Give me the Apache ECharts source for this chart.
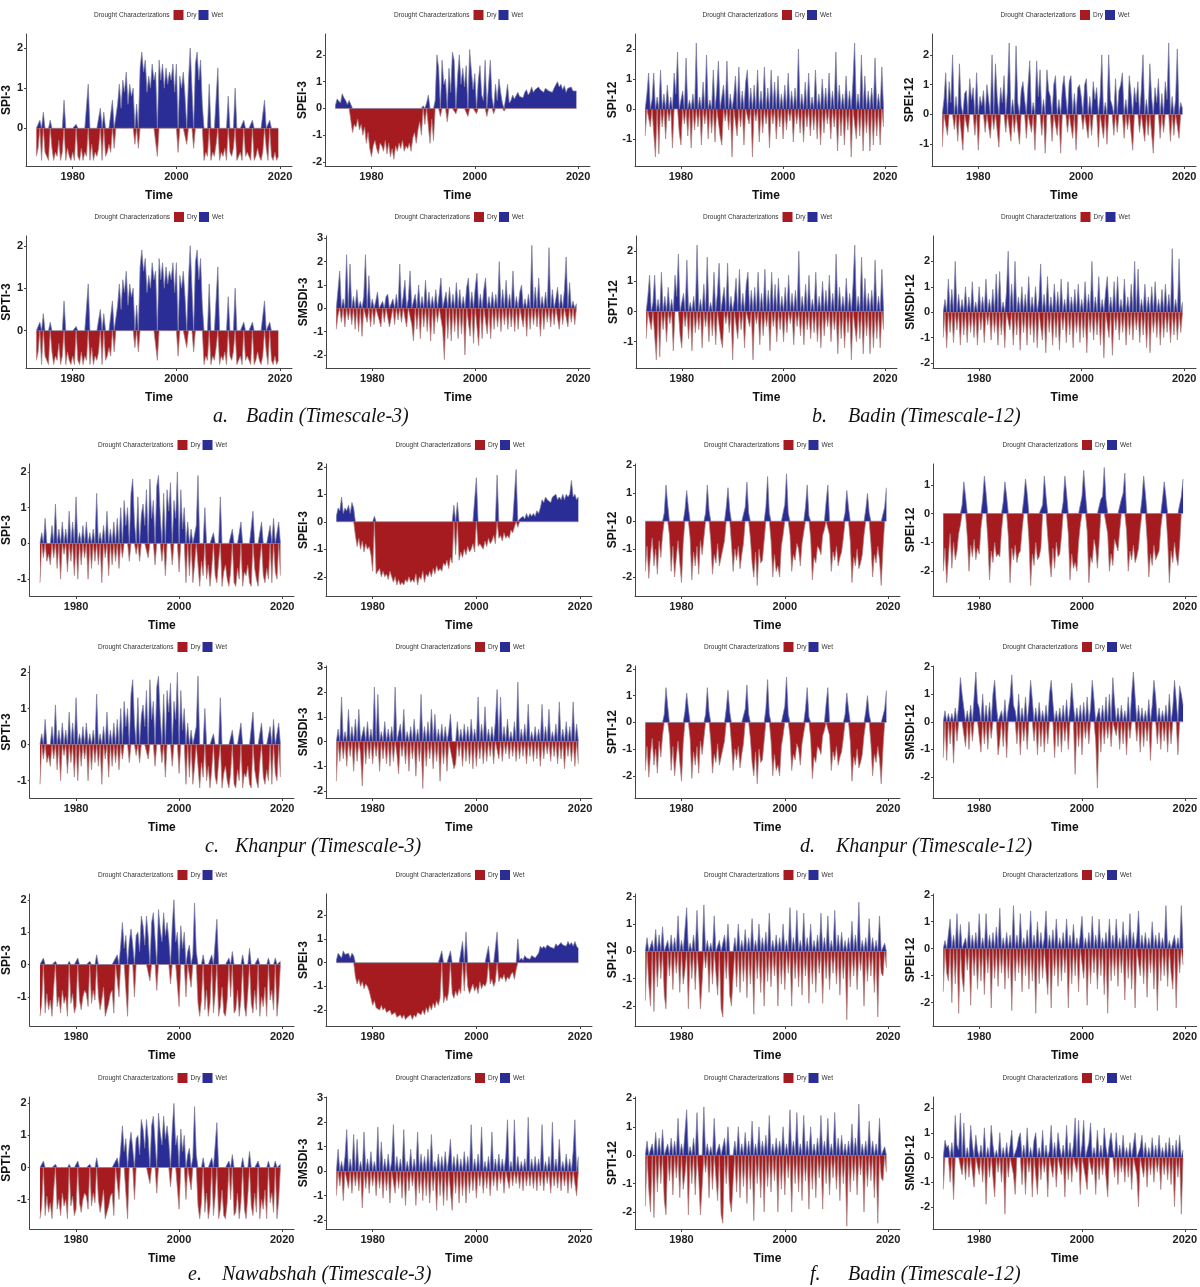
<!DOCTYPE html>
<html>
<head>
<meta charset="utf-8">
<title>Drought characterizations</title>
<script src="https://cdn.jsdelivr.net/npm/echarts@6/dist/echarts.min.js"></script>
<style>
html,body{margin:0;padding:0;background:#fff;}
#main{width:1200px;height:1287px;}
</style>
</head>
<body>
<div id="main"></div>
<script type="text/javascript">
// values, 3 per year (Jan-Apr, May-Aug, Sep-Dec) from 1973 to 2019
var startYear = 1973, perYear = 3;
var yearTicks = [1980, 2000, 2020];

// a. Badin, timescale 3
var badinSPI3 = [
 -0.7,-0.5,0.2, -0.8,0.4,-0.6, -0.7,-0.8,0.2, -0.5,-0.8,-0.6, -0.7,-0.3,-0.8, -0.6,0.7,-0.8,
 -0.5,-0.7,-0.8, -0.6,-0.8,0.1, -0.7,-0.8,-0.5, -0.8,-0.6,-0.7, 1.1,-0.8,-0.4, -0.8,-0.6,-0.7,
 -0.5,0.5,-0.8, 0.4,-0.7,-0.6, -0.4,-0.6,0.7, -0.5,0.3,0.6, 1.1,0.5,1.2, 0.9,1.4,0.6,
 1.1,0.8,1.0, -0.4,0.6,-0.5, 1.5,1.9,1.4, 1.7,0.9,1.3, 1.0,1.6,1.2, 1.4,-0.7,1.7,
 1.2,1.6,1.0, 1.5,1.1,1.4, 1.2,1.6,0.9, 1.6,-0.6,1.3, 1.0,1.4,0.8, -0.4,1.2,2.0,
 1.0,-0.5,1.6, 1.9,1.2,1.7, 0.6,-0.8,-0.6, -0.7,1.1,-0.8, -0.6,-0.7,-0.4, 1.5,-0.8,-0.6,
 -0.7,-0.5,-0.8, 0.8,-0.6,-0.7, -0.5,1.0,-0.8, -0.7,-0.6,-0.8, 0.2,-0.7,-0.6, -0.6,-0.8,0.2,
 -0.8,-0.7,-0.5, -0.7,-0.8,-0.6, 0.7,-0.5,-0.8, 0.2,-0.7,-0.8, -0.6,-0.8,-0.7
];
var badinSPEI3 = [
 0.1,0.35,0.3, 0.2,0.55,0.4, 0.3,0.15,0.3, 0.25,-0.9,-0.6, -0.7,-0.4,-0.8, -0.6,-1.0,-0.7,
 -1.3,-0.9,-1.5, -1.8,-1.4,-1.2, -1.5,-1.7,-1.3, -1.4,-1.6,-1.2, -1.7,-1.3,-1.8, -1.5,-1.9,-1.4,
 -1.6,-1.3,-1.5, -1.2,-1.6,-1.4, -1.5,-1.3,-1.6, -1.1,-0.9,-1.3, -0.8,-0.5,-1.0, 0.1,-0.6,0.2,
 0.5,-1.3,-0.4, -1.2,0.3,2.0, 1.5,-0.3,1.8, 0.9,1.1,-0.5, 1.5,0.6,2.1, 1.8,-0.2,1.2,
 2.0,0.9,1.5, 0.8,1.6,-0.3, 2.2,1.4,0.7, 1.3,-0.2,1.0, 1.6,0.5,0.3, 1.8,-0.3,0.9,
 1.8,0.4,-0.2, 0.9,0.3,1.1, 0.6,0.2,-0.1, 0.4,0.9,0.2, 0.3,0.5,0.35, 0.4,0.6,0.45,
 0.5,0.4,0.6, 0.7,0.5,0.6, 0.8,0.6,0.7, 0.65,0.8,0.7, 0.7,0.6,0.75, 0.8,0.65,0.7,
 0.6,0.75,0.7, 1.0,0.8,0.9, 0.7,0.85,0.6, 0.75,0.7,0.8, 0.65,0.7,0.65
];
// SPTI-3 follows the SPI-3 trace almost exactly in the picture
var badinSPTI3 = badinSPI3;
var badinSMSDI3 = [
 -0.9,-0.3,1.6, -0.6,0.4,-0.8, 2.3,-0.5,1.9, -0.7,0.5,-0.9, 0.8,-1.0,0.3, -1.2,0.5,2.3,
 -0.6,1.4,-0.8, 0.4,-0.7,0.3, 0.7,-0.5,-0.8, 0.3,-0.6,0.5, 0.6,-0.8,-0.4, 0.4,-0.7,0.6,
 -0.5,1.9,-0.6, 0.5,1.2,-0.8, 0.4,1.6,-0.7, -1.4,0.6,-0.9, 1.0,-1.3,0.5, -0.8,1.2,-1.0,
 0.7,-1.4,0.5, -1.1,0.8,-0.6, 0.6,1.3,-0.9, -2.2,0.7,-1.3, 0.9,-1.4,0.6, -1.0,1.1,-1.3,
 0.8,-1.1,0.5, -2.0,0.9,1.3, -1.2,0.7,-1.5, 0.9,1.5,-1.6, 0.6,-1.3,0.8, 1.3,-1.1,0.5,
 -1.3,0.7,-0.9, 0.6,-0.8,2.0, -1.0,0.8,-0.7, 1.2,-0.9,0.6, -0.8,1.6,-1.0, 0.5,-0.9,0.7,
 1.0,-0.8,0.4, -1.2,0.6,-0.9, 2.7,-0.7,0.9, -0.8,1.3,-1.2, 0.5,-0.9,0.7, -0.6,2.6,-0.8,
 0.8,-0.7,0.4, 0.9,-0.9,0.6, -0.7,0.8,2.2, -0.8,1.1,-0.6, 0.3,-0.7,0.2
];

// b. Badin, timescale 12
var badinSPI12 = [
 -0.9,0.5,1.2, -0.6,0.3,1.2, -1.6,0.4,-1.5, 1.3,-0.6,0.5, -1.0,0.8,-0.4, 0.4,-1.3,1.2,
 0.5,1.9,-0.8, -1.2,0.6,-0.5, 1.7,-0.9,0.3, -1.3,0.5,-0.7, 2.2,-0.6,0.4, -1.2,0.9,-0.5,
 1.8,-1.0,0.3, -0.8,1.3,-1.1, 0.6,1.6,-0.9, -1.2,0.8,-0.4, 1.6,-0.7,0.5, -1.6,0.4,1.1,
 -0.9,1.4,-0.6, 0.6,-1.2,0.9, 1.3,-0.5,0.7, -1.6,0.8,-0.4, 1.3,-1.1,0.6, -0.8,1.4,-0.5,
 0.7,-1.3,1.3, -0.5,0.9,-1.0, 1.1,-0.6,0.5, -1.0,0.8,-0.7, 1.2,-0.4,0.6, -1.1,0.7,-0.5,
 2.0,-0.8,0.5, -1.1,0.9,-0.6, 1.2,-0.9,0.4, -0.7,1.3,-1.0, 0.5,-1.2,1.0, -0.8,0.7,-0.5,
 1.2,-1.0,0.6, -0.6,1.9,-1.4, 0.8,-0.9,0.5, -1.2,1.1,-0.7, 0.6,-1.6,0.9, 2.2,-1.0,0.5,
 -0.9,1.8,-1.4, 1.1,-0.8,0.6, -1.4,0.7,-1.2, 1.7,-0.9,0.5, -1.2,1.4,-0.6
];
var badinSPEI12 = [
 -1.1,0.5,1.4, -0.7,1.1,0.4, 2.0,-0.5,0.6, -0.9,1.7,0.3, -1.2,0.7,0.8, -0.6,1.2,0.5,
 0.9,-0.7,1.4, -1.2,0.6,0.3, 0.8,-0.6,1.0, 0.5,-0.8,2.0, -0.5,1.7,0.6, -1.1,0.9,0.4,
 1.3,-0.6,0.8, 2.4,-0.9,0.5, -0.6,2.3,0.4, -1.0,0.8,1.1, 0.5,-0.8,1.0, 1.8,-0.6,0.4,
 -1.2,1.8,0.6, 1.5,-0.7,0.5, -1.3,1.5,0.8, 0.6,-0.9,1.0, 1.3,-0.7,0.5, -1.3,0.9,1.3,
 0.6,-0.6,1.1, 1.3,-0.8,0.7, -1.2,0.9,1.0, 0.6,-0.5,1.0, 1.2,-0.8,0.6, -0.7,1.1,0.5,
 0.9,-1.1,0.6, 2.0,-0.8,0.4, -1.0,2.0,0.5, 0.3,-0.7,1.2, -0.6,0.8,1.0, 1.4,-0.8,0.5,
 -0.5,1.3,0.7, -1.2,0.9,0.4, 1.1,-0.6,0.8, 2.0,-0.9,0.5, -0.7,1.7,0.6, -1.3,0.9,0.4,
 1.2,-0.8,0.7, -0.6,1.1,0.5, 2.4,-0.9,0.6, -0.7,0.5,2.2, -0.8,0.4,0.2
];
// SPTI-12 follows the SPI-12 trace
var badinSPTI12 = badinSPI12;
var badinSMSDI12 = [
 -1.0,0.5,-1.4, 1.3,-0.8,0.9, -1.2,2.0,-0.7, 0.7,-1.3,0.5, -0.9,1.0,-1.2, 0.6,-0.8,1.2,
 -1.0,0.4,-1.3, 1.0,-0.7,0.6, -1.2,1.3,-0.5, 0.5,-1.1,0.9, -0.8,1.5,-1.3, 1.6,-0.9,0.4,
 -1.4,0.8,2.4, -0.7,1.1,-1.3, 2.0,-0.9,0.6, -1.5,1.0,-0.8, 0.7,-1.3,1.4, -0.9,0.6,-1.2,
 1.0,-1.4,0.5, 1.9,-1.1,0.7, -1.6,1.4,-0.8, 0.6,-1.3,1.1, -1.0,0.8,-1.5, 1.3,-0.7,0.5,
 -1.2,1.2,-0.9, 0.6,-1.4,0.9, -0.8,1.1,-1.2, 0.5,-1.0,1.2, -1.6,0.7,-0.8, 2.0,-1.1,0.6,
 -0.9,1.4,-1.3, 0.5,-1.8,0.8, 1.4,-1.0,0.6, -1.7,1.2,-0.7, 1.4,-1.1,0.5, -0.8,1.3,-1.3,
 0.6,-0.9,1.1, -1.1,2.0,-0.7, 1.7,-1.2,0.5, -0.9,1.1,-1.4, 0.6,-1.6,1.0, -0.8,1.2,-1.0,
 0.5,-1.3,0.9, -1.0,1.1,-0.8, 0.7,-1.2,2.5, -0.9,0.5,-1.1, 2.1,-0.8,0.4
];

// c. Khanpur, timescale 3
var khanpurSPI3 = [
 -1.1,0.3,-0.4, 0.7,-0.5,-0.3, -0.6,0.5,-0.4, 1.1,-0.7,0.4, -1.0,0.6,-0.3, 0.4,-0.8,0.9,
 -0.5,0.6,-0.9, 1.3,-1.0,0.3, -0.6,0.5,-0.4, 0.6,-1.0,0.3, -0.7,0.4,-0.5, 1.4,-0.6,0.3,
 -1.1,0.5,-0.4, 0.9,-0.9,0.4, -0.6,0.6,-0.5, 0.7,-0.7,1.0, -0.4,1.2,0.5, 1.0,-0.5,1.4,
 1.8,0.6,-0.3, 1.3,-0.5,0.8, 1.1,0.5,1.5, -0.4,1.8,0.7, 1.2,-0.6,1.6, 1.9,0.8,-0.5,
 1.4,-0.9,1.5, 0.9,1.7,-0.6, 1.2,0.7,2.0, -0.8,1.5,0.4, 1.0,-1.1,0.6, -0.9,0.4,-1.1,
 -0.6,0.5,1.9, -1.2,-0.5,-0.9, 1.0,-1.0,-0.6, -1.2,-0.7,0.3, -0.9,-1.1,-0.5, 1.3,-1.2,-0.8,
 -0.6,-1.0,-1.2, -0.8,0.4,-1.1, -1.2,-0.7,-1.0, 0.6,-1.2,-0.8, -0.9,-0.6,-1.1, -1.2,0.9,-0.7,
 -1.0,-1.2,-0.5, 0.6,-0.9,-1.1, -0.7,-1.0,0.5, -1.1,0.7,-0.8, -1.0,0.6,-0.9
];
var khanpurSPEI3 = [
 0.2,0.5,0.4, 0.9,0.3,0.5, 0.4,0.6,0.3, 0.7,0.5,-0.5, -0.9,-0.6,-1.0, -0.7,-1.1,-0.8,
 -1.0,-0.9,-1.2, -1.8,0.2,-1.9, -1.9,-1.7,-2.0, -1.8,-2.0,-1.9, -2.1,-1.8,-2.0, -2.2,-2.0,-2.3,
 -2.1,-2.3,-2.2, -2.3,-2.1,-2.2, -2.0,-2.2,-2.1, -2.2,-1.9,-2.3, -2.0,-2.1,-1.8, -2.2,-1.9,-2.0,
 -1.8,-2.0,-1.7, -1.9,-1.6,-1.8, -1.7,-1.8,-1.5, -1.6,-1.4,-1.7, -1.3,-1.5,0.6, -1.2,0.7,-1.4,
 -1.1,-1.3,-1.0, -1.2,-0.9,-1.1, -1.0,-0.8,-1.1, 1.6,-0.9,-0.8, -0.8,-1.0,-0.7, -0.9,-0.6,-0.8,
 -0.7,-0.5,-0.8, 1.7,-0.6,-0.5, -0.7,-0.4,-0.6, -0.5,-0.6,-0.3, -0.4,-0.2,1.9, -0.2,0.1,0.05,
 0.2,0.1,0.3, 0.15,0.3,0.2, 0.3,0.2,0.4, 0.3,0.5,0.8, 0.7,0.9,0.8, 0.8,0.7,0.9,
 0.85,1.0,0.8, 0.9,0.8,1.0, 0.8,1.0,0.9, 1.0,1.5,0.9, 1.0,0.8,0.9
];
var khanpurSPTI3 = khanpurSPI3;
var khanpurSMSDI3 = [
 -1.6,0.5,-0.8, 1.8,-0.7,0.4, -1.0,1.3,-0.6, 0.6,-1.2,0.9, -0.8,1.3,-0.5, -1.8,0.6,-0.9,
 0.8,-0.7,0.5, -0.9,2.2,-0.6, 1.9,-1.2,0.4, -0.7,0.8,-0.9, 0.5,-1.0,0.6, -0.8,2.2,-0.5,
 -1.3,0.7,-0.6, 1.3,-0.9,0.4, -1.2,0.6,-0.7, 0.9,-1.4,0.5, -0.8,1.9,-1.9, 0.6,-1.0,0.8,
 -0.7,1.3,-1.1, 1.1,-0.8,0.5, -1.6,0.7,-0.9, 0.6,-1.2,0.4, 1.1,-0.7,-1.1, -0.9,0.8,-0.6,
 0.5,-1.0,0.7, -0.8,0.6,-0.9, 0.9,-1.1,0.5, -1.0,1.8,-0.7, 0.7,-0.9,1.4, -0.8,0.5,-0.6,
 0.6,-0.9,0.8, 2.1,-0.7,1.8, -0.8,0.6,-0.5, 0.9,-0.7,0.4, -0.6,0.8,-0.8, 2.4,-0.7,0.5,
 -0.6,0.7,-0.9, 1.5,-0.6,0.4, -0.8,0.6,-0.7, 0.5,-1.0,1.5, -0.7,0.6,-0.5, 1.3,-0.8,0.4,
 -0.6,0.7,-0.9, 1.6,-0.7,0.5, -1.1,0.8,-0.6, 0.6,-0.8,1.6, -1.0,0.7,-0.9
];

// d. Khanpur, timescale 12 (red blocks with a wet peak roughly every four years)
var khanpurSPI12 = [
 -1.8,-0.9,-2.05, -1.2,-0.6,-1.6, -1.0,-1.9,-0.7, -1.3,-0.5,0.3, 1.3,0.6,-0.5, -1.8,-0.9,-2.0,
 -1.3,-0.7,-1.5, -2.2,-0.8,0.4, 1.1,0.5,-0.6, -2.1,-1.1,-1.6, -0.9,-1.9,-0.7, -1.2,-0.6,0.3,
 1.3,0.4,-0.7, -1.9,-1.2,-1.5, -0.8,-1.6,-1.3, -1.0,-0.7,0.5, 1.2,0.4,-0.8, -1.8,-1.0,-1.4,
 -0.9,-1.7,-1.2, -0.8,0.5,1.4, 0.3,-0.6,-1.5, -2.0,-1.1,-2.3, -1.0,-1.5,-1.4, -0.7,0.5,1.6,
 0.3,-0.7,-2.0, -1.2,-1.8,-1.6, -2.0,-0.9,-0.5, 0.6,1.7,0.3, -0.5,-1.8,-1.2, -1.4,-0.8,-1.0,
 -1.6,-0.8,-0.4, 0.5,1.3,0.2, -0.6,-2.1,-1.3, -1.5,-0.9,-1.0, -1.2,-0.5,-0.3, 0.7,1.3,-0.5,
 -1.8,-1.1,-1.4, -0.9,-1.6,-1.3, -1.1,-0.6,0.3, 1.1,0.5,-0.7, -2.2,-1.3,-1.6, -1.0,-1.7,-1.5,
 -1.2,-0.5,0.4, 1.0,0.3,-0.8, -2.0,-1.2,-1.5, -0.9,-1.4,-2.3, -1.0,0.5,1.2
];
var khanpurSPEI12 = [
 -2.0,-1.2,-2.4, -1.5,-0.7,-1.9, -1.0,-1.6,-1.3, -0.7,-0.4,0.3, 1.1,0.6,-0.8, -2.0,-1.1,-1.5,
 -0.9,-1.6,-1.2, -1.4,-0.5,0.5, 1.3,0.7,-0.9, -2.3,-1.3,-1.7, -1.0,-1.5,-1.4, -1.5,-0.6,0.4,
 1.1,0.6,-0.8, -2.4,-1.2,-1.6, -1.1,-1.7,-1.4, -1.3,-0.6,0.5, 1.2,0.7,-0.9, -2.5,-1.4,-1.8,
 -1.0,-1.6,-1.5, -1.2,0.3,1.3, 0.6,-0.8,-1.6, -2.2,-1.2,-1.9, -1.0,-1.5,-1.4, -0.8,0.4,1.3,
 0.7,-0.7,-2.3, -1.4,-1.9,-1.7, -2.0,-1.0,-0.4, 0.6,1.5,0.7, -0.6,-2.4,-1.5, -1.7,-0.9,-1.2,
 -1.9,-1.0,0.5, 0.6,1.6,0.5, -0.7,-2.0,-1.4, -1.8,-0.9,-1.1, -1.3,-0.6,0.5, 0.7,1.4,-0.6,
 -2.0,-1.3,-1.6, -1.1,-1.7,-1.5, -1.2,-0.5,0.5, 1.3,0.7,-0.9, -2.2,-1.4,-1.8, -1.1,-1.6,-1.6,
 -1.3,-0.5,0.5, 1.1,0.6,-0.9, -2.4,-1.3,-1.7, -1.0,-1.5,-1.8, -1.1,0.6,1.2
];
var khanpurSPTI12 = khanpurSPI12;
var khanpurSMSDI12 = [
 -1.3,0.4,-1.4, 0.3,-0.8,0.3, -1.5,0.5,-0.7, 0.6,1.6,1.0, 0.5,-0.9,0.4, -1.0,0.6,-0.7,
 0.9,1.8,0.7, 0.5,-1.1,1.0, -0.8,0.6,-1.0, 0.7,-0.6,1.0, 1.5,0.6,-1.2, -0.7,0.4,-0.9,
 0.8,-1.3,0.5, 0.9,1.7,0.6, 0.4,-0.8,1.0, -1.2,0.5,-0.7, 0.9,-1.0,0.6, 1.5,0.8,-0.7,
 0.5,-1.2,0.7, -0.9,0.4,-1.1, 0.6,-0.8,1.0, 1.5,0.7,-1.3, 0.4,-0.9,0.5, -1.1,0.6,-0.7,
 0.8,-1.0,0.5, 1.4,0.6,-1.9, 0.5,-0.9,0.6, -1.2,0.7,-0.6, 0.9,-0.8,0.5, 1.5,0.8,-0.7,
 -2.4,0.5,-1.1, 0.6,-0.8,0.9, -0.6,1.0,-0.9, 1.6,0.7,-0.5, 0.5,-1.0,0.6, -0.8,0.4,-1.2,
 0.9,-0.6,1.0, 1.8,0.9,-0.7, 0.6,-1.1,0.5, -0.9,0.4,-0.7, 0.8,-1.4,0.6, 1.5,0.9,-0.8,
 0.5,-1.0,0.4, -0.7,0.6,-1.1, 1.0,-0.8,0.5, 1.5,0.8,-1.2, 1.3,1.0,0.6
];

// e. Nawabshah, timescale 3
var nawabSPI3 = [
 -1.6,-1.2,0.2, -1.5,-0.9,-1.4, -1.1,-1.6,-0.7, 0.1,-1.3,-1.0, -1.5,-0.8,-1.2, -1.0,-1.6,0.1,
 -1.2,-0.9,-1.5, -1.3,0.2,-1.1, -1.4,-1.0,-0.8, -0.9,-1.3,0.1, -1.2,-0.8,-1.1, 0.3,-1.0,-1.4,
 -1.1,-0.7,-1.6, -1.6,-1.2,-0.9, -0.8,-1.5,0.2, 0.3,-1.0,0.6, 1.3,0.5,0.9, -1.6,0.7,1.1,
 0.6,-1.0,0.9, 1.0,0.4,1.5, 1.2,0.6,1.5, 0.9,-0.5,1.3, 1.6,0.8,-0.8, 1.7,1.1,0.7,
 1.6,0.9,1.3, 0.8,-0.6,1.2, 2.0,0.7,1.0, -1.3,1.2,0.5, 1.0,-1.0,0.4, 0.6,-0.7,0.3,
 1.9,0.4,-1.2, -1.6,-1.1,0.3, -1.4,-0.8,-1.6, -1.2,0.3,-1.5, -0.9,1.4,-1.6, -1.3,-0.7,-1.5,
 -1.6,-1.1,0.2, -1.0,0.4,-1.5, -1.4,-0.8,-1.6, -1.1,0.3,-1.3, -1.6,-0.9,0.5, -1.2,-1.5,-0.8,
 -1.4,0.2,-1.6, -1.0,-1.3,-0.7, -1.6,0.2,-1.1, -0.8,-1.4,0.2, -1.6,-1.0,0.1
];
var nawabSPEI3 = [
 0.1,0.4,0.3, 0.2,0.5,0.35, 0.3,0.4,0.2, 0.4,0.3,-0.6, -0.9,-0.7,-1.0, -0.8,-1.1,-0.9,
 -1.0,-1.2,-1.5, -1.8,-1.6,-1.9, -1.9,-2.0,-1.8, -2.0,-1.9,-2.1, -2.1,-2.0,-2.2, -2.2,-2.1,-2.3,
 -2.3,-2.2,-2.35, -2.2,-2.4,-2.3, -2.3,-2.2,-2.4, -2.2,-2.3,-2.1, -2.1,-2.2,-2.0, -2.2,-1.9,-2.1,
 -1.8,-2.0,-1.7, -1.9,-1.6,-1.8, -1.5,0.5,-1.7, -1.4,-1.6,-1.2, 0.5,-1.3,-1.5, -1.2,-1.4,-1.1,
 -1.3,0.9,-1.2, 1.3,-1.0,-1.3, -1.1,-0.9,-1.2, -1.0,-1.3,-0.8, -1.1,-0.9,-1.0, -0.8,0.7,-0.9,
 -0.7,-1.0,-0.8, 1.3,-0.8,-0.6, -0.7,-0.5,-0.8, -0.6,-0.7,-0.5, -0.4,-0.7,-0.3, 1.0,0.1,0.2,
 0.1,0.3,0.2, 0.2,0.15,0.3, 0.3,0.2,0.25, 0.4,0.7,0.6, 0.7,0.6,0.75, 0.8,0.65,0.7,
 0.6,0.8,0.7, 0.7,0.85,0.75, 0.8,0.7,0.9, 0.75,0.85,0.7, 0.9,0.7,0.6
];
var nawabSPTI3 = nawabSPI3;
var nawabSMSDI3 = [
 -1.0,0.9,-0.6, 0.4,-1.2,0.6, 1.7,-0.7,0.5, -0.9,1.5,-0.6, 1.3,-0.8,0.4, -1.5,1.6,-0.7,
 0.5,-0.9,0.8, -0.6,0.4,-1.0, 1.8,-0.7,1.2, -1.1,0.5,-0.8, 0.7,-1.3,0.4, 1.9,-0.9,0.6,
 -0.7,0.5,-1.1, 1.7,-1.4,0.4, -0.8,0.9,-0.6, 0.5,-1.4,1.6, -0.9,0.7,-1.2, 0.6,-1.0,0.9,
 -1.3,1.5,-0.8, 0.4,-1.6,0.7, -1.0,0.6,-1.4, 0.8,-1.2,0.5, 1.3,-1.6,0.6, -0.9,0.7,-1.3,
 0.5,-1.0,0.8, -1.3,0.6,-0.9, 1.9,-0.8,0.5, -1.1,0.7,-0.6, 1.8,-0.9,0.4, -0.7,0.6,-1.0,
 1.6,-0.6,0.5, -0.8,0.7,-0.5, 0.5,-0.9,0.6, 2.1,-0.7,0.4, -0.6,2.1,-0.5, 0.6,-0.7,0.4,
 -0.8,0.5,-0.6, 2.2,-0.6,0.5, -0.7,0.6,-0.8, 0.5,-0.6,1.9, -0.8,0.4,-0.5, 0.6,-0.9,2.0,
 -0.6,0.5,-0.7, 1.3,-0.8,0.4, -0.6,0.7,-0.9, 0.5,-0.7,0.8, 2.1,-1.0,0.6
];

// f. Badin, timescale 12 (second set)
var badinFSPI12 = [
 -1.8,0.5,-1.2, -2.0,0.4,-2.2, 0.8,-1.3,0.6, -1.0,0.9,-1.6, -2.1,0.4,-0.9, 0.6,-1.4,0.5,
 -0.8,1.3,-1.5, 0.4,-1.2,-0.7, 1.6,-2.1,0.3, -1.0,0.6,-1.4, 1.5,-0.8,-2.1, -1.1,1.7,-0.6,
 0.4,-1.5,0.3, -1.2,1.3,-0.8, -1.6,0.4,-2.1, -2.4,0.6,-1.0, 1.0,-1.6,-2.0, -0.9,0.5,-1.3,
 1.0,-1.5,0.4, -1.1,0.8,-1.7, 0.5,-1.2,1.2, -2.3,0.4,-1.0, 1.0,-1.5,0.5, -2.0,0.7,-1.1,
 1.4,-1.3,0.4, -0.9,0.6,-2.0, 0.5,-1.2,1.0, -1.4,0.4,-0.8, 1.6,-2.0,0.5, -1.0,1.5,-1.3,
 0.4,-1.6,1.4, -0.9,0.5,-1.9, 1.0,-1.2,0.4, -1.5,0.6,-0.8, 1.4,-1.9,0.5, -1.0,1.3,-1.4,
 0.4,-0.8,1.5, -1.2,0.6,-1.6, 0.7,-1.0,0.4, -2.5,0.5,-1.3, 1.1,-0.9,0.6, -1.4,1.8,-0.7,
 0.4,-2.0,0.5, -1.1,1.2,-0.9, 0.5,-1.5,0.4, -2.4,1.3,-0.8, -0.9,0.3,-0.6
];
var badinFSPEI12 = [
 -1.6,0.3,-0.9, -1.2,1.1,-2.0, 0.5,-1.3,1.3, -2.4,0.9,-1.1, -1.6,0.4,-0.8, 1.0,-2.1,0.5,
 -1.0,0.6,-1.5, 1.3,-1.2,0.4, -1.7,1.3,-0.9, 0.5,-2.2,0.6, -1.1,0.8,-1.4, 1.5,-0.9,0.4,
 -1.5,0.6,-1.1, 0.5,-2.3,1.6, -1.2,0.5,-0.9, 1.3,-1.6,0.4, -1.0,0.7,-1.5, 1.4,-1.2,0.5,
 -2.4,1.0,-1.3, 0.6,-1.1,0.4, 1.4,-1.7,0.5, -2.2,0.7,-1.0, 1.1,-1.4,0.4, -1.2,0.6,-0.9,
 1.1,-2.2,0.5, -1.3,0.9,-1.0, 0.4,-1.6,0.5, 1.2,-1.1,0.4, -2.1,0.6,-1.3, 1.2,-0.9,0.5,
 -1.5,1.1,-1.0, 0.4,-1.7,0.6, -2.4,1.1,-1.2, 0.5,-1.0,1.1, -1.4,0.4,-0.9, 1.0,-1.9,0.5,
 -1.1,1.3,-1.5, 0.6,-2.2,0.4, 1.4,-1.0,0.5, -1.3,0.6,-1.8, 0.4,-0.9,1.0, -1.5,0.5,-2.3,
 0.6,-1.2,0.4, -1.0,1.6,-1.4, 0.3,-0.9,-1.5, 0.5,-2.2,0.4, -0.9,1.6,-0.6
];
var badinFSPTI12 = badinFSPI12;
var badinFSMSDI12 = [
 -1.3,0.7,0.4, 0.5,-1.0,0.6, -1.7,1.7,0.5, 0.3,1.8,-0.7, 1.4,-0.9,0.4, -0.8,1.3,0.5,
 -1.2,0.9,0.3, -0.7,0.5,-1.0, 1.2,-1.9,0.4, -0.8,1.3,0.5, -1.6,0.3,-0.6, 1.0,-1.0,0.4,
 -2.3,0.6,-0.8, 0.5,1.1,-0.7, -1.5,0.4,0.8, 1.0,-1.1,0.5, -1.5,1.2,-0.6, 0.4,-1.6,0.7,
 1.0,-1.5,0.4, -0.9,1.1,-0.6, 0.5,-1.6,0.3, 1.3,-0.8,0.6, -1.2,1.0,0.4, -0.7,0.5,-1.6,
 1.3,-0.9,0.6, -1.0,0.5,1.6, -0.6,1.5,-1.5, 0.5,1.5,-0.8, -1.3,0.6,1.4, -0.7,0.4,-1.5,
 1.1,-0.9,0.5, -0.7,1.2,0.4, -1.6,0.6,1.0, 0.3,-0.8,1.0, -1.1,0.5,-0.6, 0.9,-1.0,0.4,
 -0.8,0.6,-1.3, 0.5,1.0,-0.7, -2.0,0.4,0.9, -0.8,0.6,-1.2, 0.4,-0.7,0.8, -1.0,0.5,-0.6,
 0.9,-1.3,0.4, -0.7,0.6,-0.9, 0.8,-1.1,0.5, -2.0,0.7,-0.8, 0.9,-2.3,0.3
];

var dryColor = '#a51b1f', wetColor = '#2b2d96';
var sansFont = '"Liberation Sans", Arial, sans-serif';

// panel layout: x,y = top-left of the panel box, left/right = plot edges inside it
var panels = [
  {name:'SPI-3', vals:badinSPI3, x:0, y:0, left:23, right:292, min:-0.94, max:2.35, ticks:[0,1,2]},
  {name:'SPEI-3', vals:badinSPEI3, x:300, y:0, left:25, right:290, min:-2.15, max:2.78, ticks:[-2,-1,0,1,2]},
  {name:'SPI-12', vals:badinSPI12, x:600, y:0, left:35, right:297, min:-1.9, max:2.5, ticks:[-1,0,1,2]},
  {name:'SPEI-12', vals:badinSPEI12, x:900, y:0, left:32, right:296, min:-1.73, max:2.7, ticks:[-1,0,1,2]},
  {name:'SPTI-3', vals:badinSPTI3, x:0, y:202, left:24, right:292, min:-0.88, max:2.23, ticks:[0,1,2]},
  {name:'SMSDI-3', vals:badinSMSDI3, x:300, y:202, left:26, right:290, min:-2.56, max:3.1, ticks:[-2,-1,0,1,2,3]},
  {name:'SPTI-12', vals:badinSPTI12, x:600, y:202, left:36, right:297, min:-1.87, max:2.5, ticks:[-1,0,1,2]},
  {name:'SMSDI-12', vals:badinSMSDI12, x:900, y:202, left:33, right:296, min:-2.2, max:3.0, ticks:[-2,-1,0,1,2]},
  {name:'SPI-3', vals:khanpurSPI3, x:0, y:430, left:29, right:294, min:-1.47, max:2.22, ticks:[-1,0,1,2]},
  {name:'SPEI-3', vals:khanpurSPEI3, x:300, y:430, left:26, right:292, min:-2.7, max:2.1, ticks:[-2,-1,0,1,2]},
  {name:'SPI-12', vals:khanpurSPI12, x:600, y:430, left:35, right:300, min:-2.68, max:2.05, ticks:[-2,-1,0,1,2]},
  {name:'SPEI-12', vals:khanpurSPEI12, x:900, y:430, left:33, right:299, min:-2.86, max:1.72, ticks:[-2,-1,0,1]},
  {name:'SPTI-3', vals:khanpurSPTI3, x:0, y:632, left:29, right:294, min:-1.48, max:2.18, ticks:[-1,0,1,2]},
  {name:'SMSDI-3', vals:khanpurSMSDI3, x:300, y:632, left:26, right:292, min:-2.28, max:3.05, ticks:[-2,-1,0,1,2,3]},
  {name:'SPTI-12', vals:khanpurSPTI12, x:600, y:632, left:35, right:300, min:-2.83, max:2.11, ticks:[-2,-1,0,1,2]},
  {name:'SMSDI-12', vals:khanpurSMSDI12, x:900, y:632, left:33, right:299, min:-2.76, max:2.02, ticks:[-2,-1,0,1,2]},
  {name:'SPI-3', vals:nawabSPI3, x:0, y:860, left:29, right:294, min:-1.9, max:2.18, ticks:[-1,0,1,2]},
  {name:'SPEI-3', vals:nawabSPEI3, x:300, y:860, left:26, right:292, min:-2.67, max:2.9, ticks:[-2,-1,0,1,2]},
  {name:'SPI-12', vals:badinFSPI12, x:600, y:860, left:35, right:300, min:-2.73, max:2.1, ticks:[-2,-1,0,1,2]},
  {name:'SPEI-12', vals:badinFSPEI12, x:900, y:860, left:33, right:299, min:-2.87, max:2.03, ticks:[-2,-1,0,1,2]},
  {name:'SPTI-3', vals:nawabSPTI3, x:0, y:1063, left:29, right:294, min:-1.92, max:2.2, ticks:[-1,0,1,2]},
  {name:'SMSDI-3', vals:nawabSMSDI3, x:300, y:1063, left:26, right:292, min:-2.36, max:3.03, ticks:[-2,-1,0,1,2,3]},
  {name:'SPTI-12', vals:badinFSPTI12, x:600, y:1063, left:35, right:300, min:-2.6, max:2.05, ticks:[-2,-1,0,1,2]},
  {name:'SMSDI-12', vals:badinFSMSDI12, x:900, y:1063, left:33, right:299, min:-2.9, max:2.45, ticks:[-2,-1,0,1,2]}
];

var captions = [
  {tag:'a.', text:'Badin (Timescale-3)', x:213, tx:246, y:417},
  {tag:'b.', text:'Badin (Timescale-12)', x:812, tx:848, y:417},
  {tag:'c.', text:'Khanpur (Timescale-3)', x:205, tx:235, y:847},
  {tag:'d.', text:'Khanpur (Timescale-12)', x:800, tx:836, y:847},
  {tag:'e.', text:'Nawabshah (Timescale-3)', x:188, tx:222, y:1275},
  {tag:'f.', text:'Badin (Timescale-12)', x:810, tx:848, y:1275}
];

function plainNum(v){ return String(v); }

var grids = [], xAxes = [], yAxes = [], series = [], graphics = [];

panels.forEach(function(p, k){
  var plotTop = 34, plotH = 132;
  grids.push({left: p.x + p.left, top: p.y + plotTop, width: p.right - p.left, height: plotH});

  xAxes.push({
    type:'value', gridIndex:k, min:1971, max:2022.3,
    name:'Time', nameLocation:'middle', nameGap:24,
    nameTextStyle:{fontFamily:sansFont, fontWeight:'bold', fontSize:12, color:'#111'},
    axisLine:{show:true, onZero:false, lineStyle:{color:'#444', width:1}},
    axisTick:{show:true, length:3, customValues:yearTicks, lineStyle:{color:'#444'}},
    axisLabel:{customValues:yearTicks, formatter:plainNum, margin:5, fontFamily:sansFont, fontWeight:'bold', fontSize:11, color:'#222'},
    splitLine:{show:false}
  });

  var is12 = p.name.indexOf('-12') > 0;
  var nameCenter = is12 ? 16 : 10;
  yAxes.push({
    type:'value', gridIndex:k, min:p.min, max:p.max,
    name:p.name, nameLocation:'middle', nameGap: p.left - nameCenter - 6,
    nameTextStyle:{fontFamily:sansFont, fontWeight:'bold', fontSize:12, color:'#111'},
    axisLine:{show:true, onZero:false, lineStyle:{color:'#444', width:1}},
    axisTick:{show:true, length:2, customValues:p.ticks, lineStyle:{color:'#444'}},
    axisLabel:{customValues:p.ticks, formatter:plainNum, margin:3, fontFamily:sansFont, fontWeight:'bold', fontSize:11, color:'#222'},
    splitLine:{show:false}
  });

  var wet = [], dry = [];
  p.vals.forEach(function(v, i){
    var t = startYear + i / perYear;
    wet.push([t, v > 0 ? v : 0]);
    dry.push([t, v < 0 ? v : 0]);
  });
  series.push({
    name:'Wet', type:'line', xAxisIndex:k, yAxisIndex:k, data:wet,
    symbol:'none', silent:true,
    lineStyle:{color:'rgba(125,125,155,0.9)', width:0.8},
    areaStyle:{color:wetColor, opacity:1}
  });
  series.push({
    name:'Dry', type:'line', xAxisIndex:k, yAxisIndex:k, data:dry,
    symbol:'none', silent:true,
    lineStyle:{color:'rgba(170,130,130,0.9)', width:0.8},
    areaStyle:{color:dryColor, opacity:1}
  });

  // legend strip above each panel
  var cx = p.x + (p.left + p.right) / 2, ly = p.y + 15;
  graphics.push({type:'text', x:cx + 12, y:ly, style:{text:'Drought Characterizations', fill:'#333',
    fontSize:6.5, fontFamily:sansFont, align:'right', verticalAlign:'middle'}});
  graphics.push({type:'rect', shape:{x:cx + 16, y:ly - 5, width:10, height:10}, style:{fill:dryColor}});
  graphics.push({type:'text', x:cx + 29, y:ly, style:{text:'Dry', fill:'#333',
    fontSize:6.5, fontFamily:sansFont, align:'left', verticalAlign:'middle'}});
  graphics.push({type:'rect', shape:{x:cx + 41, y:ly - 5, width:10, height:10}, style:{fill:wetColor}});
  graphics.push({type:'text', x:cx + 54, y:ly, style:{text:'Wet', fill:'#333',
    fontSize:6.5, fontFamily:sansFont, align:'left', verticalAlign:'middle'}});
});

captions.forEach(function(c){
  graphics.push({type:'text', x:c.x, y:c.y, style:{text:c.tag, fill:'#111',
    font:'italic 20px "Liberation Serif", "Times New Roman", serif', verticalAlign:'middle'}});
  graphics.push({type:'text', x:c.tx, y:c.y, style:{text:c.text, fill:'#111',
    font:'italic 20px "Liberation Serif", "Times New Roman", serif', verticalAlign:'middle'}});
});

var chart = echarts.init(document.getElementById('main'));
chart.setOption({
  animation:false,
  backgroundColor:'#fff',
  grid:grids,
  xAxis:xAxes,
  yAxis:yAxes,
  series:series,
  graphic:graphics
});
</script>
</body>
</html>
